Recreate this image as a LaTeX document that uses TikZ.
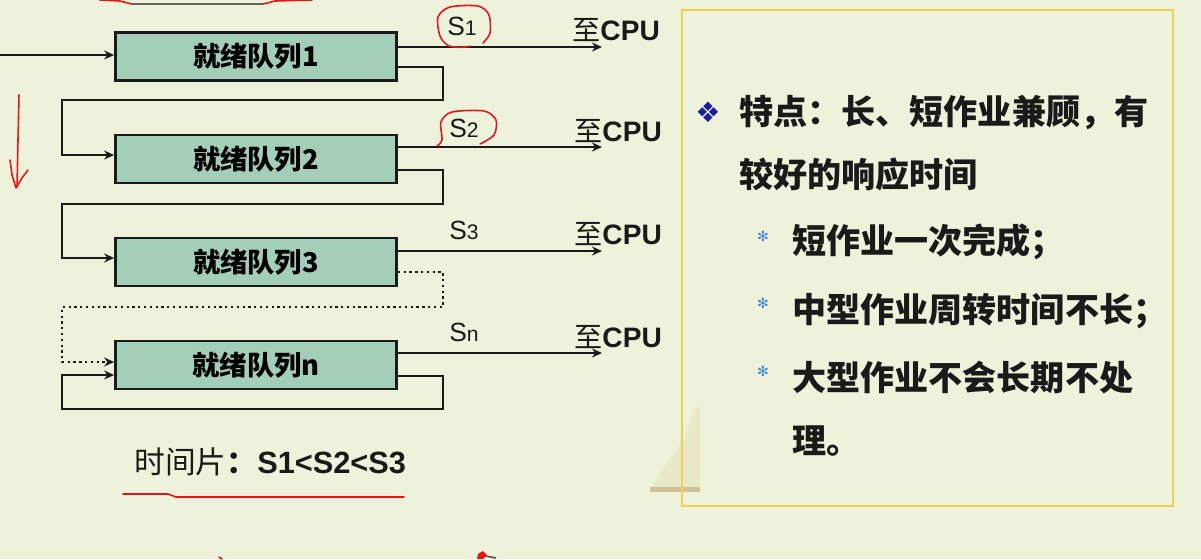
\documentclass[tikz,border=0pt]{standalone}
\usepackage{fontspec}
\setmainfont{Liberation Sans}
\newfontfamily\cjk{Noto Sans CJK SC}
\newfontfamily\sym{DejaVu Sans}
\usetikzlibrary{arrows.meta}
\definecolor{bg}{HTML}{EEF2DA}
\definecolor{boxfill}{HTML}{A3CFB8}
\definecolor{panelborder}{HTML}{F0CF50}
\definecolor{navy}{HTML}{1C1C9C}
\definecolor{starblue}{HTML}{3C86D8}
\definecolor{ink}{HTML}{1A1A1A}
\definecolor{pen}{HTML}{E01818}
\definecolor{tan}{HTML}{E4DCB4}
\definecolor{tandark}{HTML}{B0905E}
\tikzset{
  queue/.style={draw=ink, line width=1.6pt, fill=boxfill, minimum width=5.62cm, minimum height=0.96cm, inner sep=0pt, font=\cjk\bfseries\fontsize{15.5}{17}\selectfont},
  wire/.style={draw=ink, line width=1.3pt},
  arr/.style={wire, -{Stealth[length=2mm,width=1.8mm]}},
  darr/.style={arr, dotted, line width=1.3pt},
  slabel/.style={font=\fontsize{15}{16}\selectfont, text=ink, inner sep=0pt},
  cpulabel/.style={font=\fontsize{16}{17}\selectfont, text=ink, inner sep=0pt},
  ptext/.style={anchor=west, inner sep=0pt, text=ink, font=\cjk\bfseries\fontsize{19.4}{21}\selectfont},
  redpen/.style={draw=pen, line width=0.9pt, line cap=round, line join=round},
}
\begin{document}
\begin{tikzpicture}[x=0.02cm, y=-0.02cm]
\fill[bg] (0,0) rectangle (1201,559);
\useasboundingbox (0,0) rectangle (1201,559);

% faint picture behind the panel's lower left corner
\fill[tan, opacity=0.45] (700,405) -- (700,492) -- (650,492) -- (662,470) -- (684,440) -- (694,410) -- cycle;
\fill[tandark, opacity=0.45] (650,487) rectangle (700,492);

% right panel
\draw[panelborder, line width=1.3pt] (682,10) rectangle (1173,506);

% queues
\node[queue] (q1) at (256,56.5) {就绪队列1};
\node[queue] (q2) at (256,159) {就绪队列2};
\node[queue] (q3) at (256,262) {就绪队列3};
\node[queue] (qn) at (256,365) {就绪队列n};

% coordinates
\coordinate (in) at (0,55);
\coordinate (o1) at (602,47);
\coordinate (o2) at (602,147);
\coordinate (o3) at (602,251);
\coordinate (on) at (602,353);
\coordinate (f1) at (443,67);   \coordinate (t1) at (62,100);
\coordinate (f2) at (443,170);  \coordinate (t2) at (62,204);
\coordinate (f3) at (443,272);  \coordinate (t3) at (62,307);
\coordinate (fn) at (443,376);  \coordinate (tn) at (62,409);
\coordinate (e2) at (62,155);
\coordinate (e3) at (62,258);
\coordinate (en) at (62,362);
\coordinate (es) at (62,375);

% input
\draw[arr] (in) -- (q1.west |- in);

% outputs to CPU
\draw[arr] (q1.east |- o1) -- (o1);
\draw[arr] (q2.east |- o2) -- (o2);
\draw[arr] (q3.east |- o3) -- (o3);
\draw[arr] (qn.east |- on) -- (on);

% feedback paths
\draw[arr] (q1.east |- f1) -- (f1) -- (f1 |- t1) -- (t1) -- (e2) -- (q2.west |- e2);
\draw[arr] (q2.east |- f2) -- (f2) -- (f2 |- t2) -- (t2) -- (e3) -- (q3.west |- e3);
\draw[darr] (q3.east |- f3) -- (f3) -- (f3 |- t3) -- (t3) -- (en) -- (qn.west |- en);
\draw[arr] (qn.east |- fn) -- (fn) -- (fn |- tn) -- (tn) -- (es) -- (qn.west |- es);

% labels
\node[slabel] (s1) at (462,26) {S{\fontsize{12}{13}\selectfont 1}};
\node[slabel] (s2) at (464,128) {S{\fontsize{12}{13}\selectfont 2}};
\node[slabel] (s3) at (464,230) {S{\fontsize{12}{13}\selectfont 3}};
\node[slabel] (sn) at (464,332) {S{\fontsize{12}{13}\selectfont n}};

\node[cpulabel, anchor=west] (c1) at (572,30) {{\cjk 至}\textbf{CPU}};
\node[cpulabel, anchor=west] (c2) at (574,131) {{\cjk 至}\textbf{CPU}};
\node[cpulabel, anchor=west] (c3) at (574,234) {{\cjk 至}\textbf{CPU}};
\node[cpulabel, anchor=west] (c4) at (574,337) {{\cjk 至}\textbf{CPU}};

\node[anchor=west, inner sep=0pt, text=ink, font=\fontsize{17.5}{19}\selectfont] (ts) at (134,462) {{\cjk 时间片\bfseries ：}\textbf{S1<S2<S3}};

% panel text
\node[anchor=center, inner sep=0pt, text=navy, font=\sym\fontsize{16}{17}\selectfont] (b0) at (708,112) {❖};
\node[ptext] (l1) at (739,112) {特点：长、短作业兼顾，有};
\node[ptext] (l2) at (739,174) {较好的响应时间};
\node[inner sep=0pt, text=starblue, font=\sym\fontsize{8}{9}\selectfont] (b1) at (763,236) {✻};
\node[inner sep=0pt, text=starblue, font=\sym\fontsize{8}{9}\selectfont] (b2) at (763,303) {✻};
\node[inner sep=0pt, text=starblue, font=\sym\fontsize{8}{9}\selectfont] (b3) at (763,371) {✻};
\node[ptext] (l3) at (792,242) {短作业一次完成；};
\node[ptext] (l4) at (792,311) {中型作业周转时间不长；};
\node[ptext] (l5) at (792,378) {大型作业不会长期不处};
\node[ptext] (l6) at (792,441) {理。};

% red handwritten marks
\draw[redpen] (100,0) -- (120,1) -- (132,4);
\draw[draw=ink!65!bg, line width=1pt] (132,4) -- (263,4);
\draw[redpen] (263,4) -- (275,1) -- (312,0);
\draw[redpen] plot[smooth] coordinates {(483,43) (490,33) (489,15) (478,6) (450,7) (438,17) (440,36) (449,46) (465,47) (470,46)};
\draw[redpen] plot[smooth] coordinates {(480,144) (494,135) (496,120) (484,111) (452,112) (441,122) (442,140) (437,146)};
\draw[redpen] (19,95) -- (18,140) -- (17,187);
\draw[redpen] (10,160) -- (12,175) -- (16,188) -- (22,178) -- (28,170);
\draw[redpen] (123,494) -- (168,494) -- (176,497) -- (404,497);
\fill[pen] (478,554) -- (483,551) -- (487,555) -- (483,559) -- (477,559) -- cycle;
\draw[ink!70!bg, line width=1pt] (486,556) -- (496,558);
\draw[redpen] (219,557) -- (222,559);
\end{tikzpicture}
\end{document}
